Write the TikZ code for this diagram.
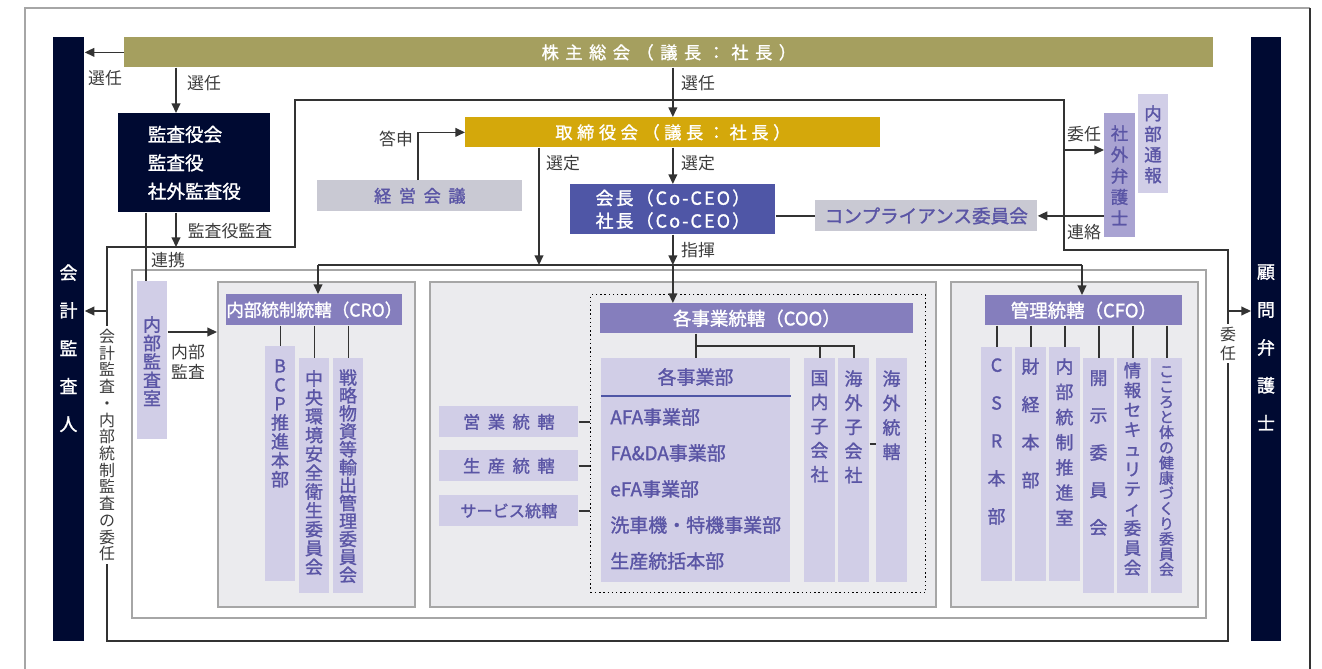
\documentclass[tikz,border=0pt]{standalone}
\usepackage{fontspec}
\setmainfont{Noto Sans CJK JP}
\newfontfamily\semib{Noto Sans CJK JP}[FakeBold=1.3]
\usetikzlibrary{arrows.meta}
\definecolor{cOlive}{HTML}{A59F5F}
\definecolor{cNavy}{HTML}{000A32}
\definecolor{cGold}{HTML}{D4A80B}
\definecolor{cCeo}{HTML}{4F56A6}
\definecolor{cBar}{HTML}{857EBD}
\definecolor{cLav}{HTML}{D1CEE7}
\definecolor{cLavM}{HTML}{A9A3D2}
\definecolor{cGray}{HTML}{C9C9D3}
\definecolor{cInner}{HTML}{EBEBEE}
\definecolor{cInnerB}{HTML}{A6A6A6}
\definecolor{cTxt}{HTML}{5A55A5}
\definecolor{cLbl}{HTML}{3C3C3C}
\definecolor{cLine}{HTML}{333333}
\newcommand\mySpread[2]{\def\mySpK{\kern#1}\mySpA#2\relax}
\def\mySpA#1{\ifx\relax#1\else#1\expandafter\mySpB\fi}
\def\mySpB#1{\ifx\relax#1\else\mySpK#1\expandafter\mySpB\fi}
\newcommand\myVt[2]{\vbox{\baselineskip=\dimexpr #1pt*567/1000\relax \lineskiplimit=-\maxdimen \lineskip=0pt \myVtA#2\relax}}
\def\myVtA#1{\ifx\relax#1\else\hbox to 1em{\hss#1\hss}\expandafter\myVtA\fi}
\newcommand\mybx[7]{\node[#6, anchor=north west, inner sep=0pt, minimum width={(#4-#2)*0.02cm}, minimum height={(#5-#3)*0.02cm}] (#1) at (#2,#3) {#7};}
\begin{document}
\begin{tikzpicture}[x=0.02cm,y=-0.02cm,
  ln/.style={draw=cLine, line width=0.8pt},
  arr/.style={ln, -{Triangle[length=5.5pt,width=5pt]}},
  lbl/.style={font=\fontsize{9.6}{11}\selectfont, text=cLbl, inner sep=0pt},
  barbox/.style={fill=cBar, text=white, font=\fontsize{10.5}{11}\selectfont\semib},
  lavbox/.style={fill=cLav, text=cTxt},
  graybox/.style={fill=cGray, text=cTxt},
  innerbox/.style={fill=cInner, draw=cInnerB, line width=1pt},
  navybox/.style={fill=cNavy, text=white},
  vtx/.style={inner sep=0pt, anchor=north, font=\fontsize{10.2}{11}\selectfont\semib, text=cTxt},
  vtw/.style={vtx, text=white},
  jt/.style={inner sep=0pt, anchor=west, font=\fontsize{10.8}{12}\selectfont\semib, text=cTxt},
]
\useasboundingbox (0,0) rectangle (1322,669);
% outer frame
\draw[draw=gray!70, line width=0.8pt] (25,669) -- (25,8) -- (1310,8);
\draw[draw=cLine, line width=0.8pt] (1310,8) -- (1310,669);
% helper coordinates
\coordinate (x176) at (176,0);
\coordinate (x146) at (146,0);
\coordinate (x418) at (418,0);
\coordinate (x539) at (539,0);
\coordinate (y150) at (0,150);
\coordinate (y311) at (0,311);
\coordinate (y332) at (0,332);
\coordinate (y346) at (0,346);
\coordinate (y396) at (0,396);
\coordinate (y444) at (0,444);
\coordinate (dL) at (318,265);
\coordinate (dR) at (1082,265);
\coordinate (L1) at (107,247);
\coordinate (L2) at (295,247);
\coordinate (L3) at (295,100);
\coordinate (L4) at (1064,100);
\coordinate (L5) at (1064,250);
\coordinate (L6) at (1228,250);
\coordinate (L7) at (1228,641);
\coordinate (L8) at (107,641);
% governance loop
\draw[ln] (L1) -- (L2) -- (L3) -- (L4) -- (L5) -- (L6) -- (L7) -- (L8) -- cycle;
% top level
\mybx{kabu}{124}{37}{1213}{67}{fill=cOlive, text=white, font=\fontsize{9.8}{10}\selectfont\semib}{\mySpread{3.7pt}{株主総会（議長：社長）}}
\mybx{kaikei}{53}{37}{84}{641}{navybox}{}
\node[vtw] at (68.5,264) {\myVt{38}{会計監査人}};
\mybx{komon}{1251}{37}{1281}{641}{navybox}{}
\node[vtw] at (1266,264) {\myVt{38}{顧問弁護士}};
\mybx{kansa}{118}{113}{270}{212}{navybox, align=left, font=\fontsize{10.6}{16.2}\selectfont\semib}{監査役会\\監査役\\社外監査役}
\mybx{tori}{465}{117}{880}{147}{fill=cGold, text=white, font=\fontsize{9.8}{10}\selectfont\semib}{\mySpread{2.6pt}{取締役会（議長：社長）}}
\mybx{keiei}{317}{180}{522}{211}{graybox, font=\fontsize{9.8}{11}\selectfont\semib}{\mySpread{4.3pt}{経営会議}}
\mybx{ceo}{570}{184}{775}{234}{fill=cCeo, text=white, align=center, font=\fontsize{10.2}{13}\selectfont\semib}{\mySpread{1.2pt}{会長（Co-CEO）}\\\mySpread{1.2pt}{社長（Co-CEO）}}
\mybx{comp}{815}{200}{1037}{231}{graybox, font=\fontsize{10.6}{12}\selectfont\semib}{コンプライアンス委員会}
\mybx{bengo}{1104}{113}{1135}{237}{fill=cLavM}{}
\node[vtx, font=\fontsize{9.9}{11}\selectfont\semib] at (1119.5,125) {\myVt{21.3}{社外弁護士}};
\mybx{tsuho}{1138}{94}{1168}{193}{lavbox}{}
\node[vtx, font=\fontsize{9.9}{11}\selectfont\semib] at (1153,105) {\myVt{20.7}{内部通報}};
% container
\mybx{cont}{131}{269}{1205}{617}{fill=white, draw=cInnerB, line width=1pt}{}
\mybx{naibu}{137}{281}{167}{439}{lavbox}{}
\node[vtx] at (152,316) {\myVt{18.5}{内部監査室}};
% CRO
\mybx{crobox}{217}{281}{414}{606}{innerbox}{}
\mybx{cro}{226}{294}{401}{325}{barbox, font=\fontsize{10}{11}\selectfont\semib}{内部統制統轄（CRO）}
\mybx{bcp}{265}{346}{295}{581}{lavbox}{}
\node[vtx] at (280,359) {\myVt{19}{BCP推進本部}};
\mybx{chuo}{299}{358}{329}{593}{lavbox}{}
\node[vtx] at (314,370) {\myVt{18.9}{中央環境安全衛生委員会}};
\mybx{senr}{333}{358}{363}{593}{lavbox}{}
\node[vtx] at (348,369) {\myVt{18}{戦略物資等輸出管理委員会}};
% COO
\mybx{coobox}{429}{281}{935}{606}{innerbox}{}
\mybx{dotbox}{590}{294}{925}{592}{draw=black, line width=0.8pt, dash pattern=on 0.8pt off 1.6pt}{}
\mybx{coo}{600}{303}{913}{333}{barbox}{各事業統轄（COO）}
\mybx{jigyo}{601}{358}{790}{582}{lavbox}{}
\node[jt, anchor=center] at (695.5,377) {各事業部};
\draw[draw=cCeo, line width=1pt] (jigyo.west |- y396) -- (jigyo.east |- y396);
\node[jt] at (610,417) {AFA事業部};
\node[jt] at (610,453) {FA\&DA事業部};
\node[jt] at (610,489) {eFA事業部};
\node[jt] at (610,525) {洗車機・特機事業部};
\node[jt] at (610,561) {生産統括本部};
\mybx{kokunai}{804}{358}{835}{582}{lavbox}{}
\node[vtx] at (819.5,370) {\myVt{24.2}{国内子会社}};
\mybx{kaigaiko}{838}{358}{869}{582}{lavbox}{}
\node[vtx] at (853.5,370) {\myVt{24.2}{海外子会社}};
\mybx{kaigaitou}{876}{358}{907}{582}{lavbox}{}
\node[vtx] at (891.5,370) {\myVt{24.5}{海外統轄}};
\mybx{eigyo}{439}{406}{578}{437}{lavbox, font=\fontsize{9.8}{11}\selectfont\semib}{\mySpread{4.3pt}{営業統轄}}
\mybx{seisan}{439}{450}{578}{481}{lavbox, font=\fontsize{9.8}{11}\selectfont\semib}{\mySpread{4.3pt}{生産統轄}}
\mybx{service}{439}{495}{578}{526}{lavbox, font=\fontsize{9.2}{10}\selectfont\semib}{サービス統轄}
% CFO
\mybx{cfobox}{950}{281}{1197}{606}{innerbox}{}
\mybx{cfo}{985}{295}{1182}{325}{barbox}{管理統轄（CFO）}
\mybx{csr}{981}{347}{1012}{581}{lavbox}{}
\node[vtx] at (996.5,358) {\myVt{38}{CSR本部}};
\mybx{zaikei}{1015}{347}{1046}{581}{lavbox}{}
\node[vtx] at (1030.5,358) {\myVt{38}{財経本部}};
\mybx{nts}{1049}{347}{1080}{581}{lavbox}{}
\node[vtx] at (1064.5,358) {\myVt{25.3}{内部統制推進室}};
\mybx{kaiji}{1083}{358}{1114}{593}{lavbox}{}
\node[vtx] at (1098.5,370) {\myVt{37.5}{開示委員会}};
\mybx{joho}{1117}{358}{1148}{593}{lavbox}{}
\node[vtx, font=\fontsize{9.9}{11}\selectfont\semib] at (1132.5,362) {\myVt{19.8}{情報セキュリティ委員会}};
\mybx{kokoro}{1151}{358}{1182}{593}{lavbox}{}
\node[vtx, font=\fontsize{8.5}{10}\selectfont\semib] at (1166.5,366) {\myVt{15.3}{こころと体の健康づくり委員会}};
% connectors
\draw[arr] (kabu.west) -- (kabu.west -| kaikei.east);
\draw[arr] (kabu.south -| x176) -- (kansa.north -| x176);
\draw[arr] (kabu.south -| tori.north) -- (tori.north);
\draw[arr] (kansa.south -| x176) -- (x176 |- L1);
\draw[ln] (kansa.south -| x146) -- (naibu.north -| x146);
\draw[arr] (keiei.north -| x418) |- (tori.west);
\draw[arr] (tori.south -| x539) -- (x539 |- dL);
\draw[arr] (tori.south) -- (ceo.north);
\draw[ln] (ceo.east |- comp.west) -- (comp.west);
\draw[arr] (L4 |- y150) -- (bengo.west |- y150);
\draw[arr] (bengo.west |- comp.east) -- (comp.east);
\draw[arr] (L1 |- y311) -- (kaikei.east |- y311);
\draw[arr] (L6 |- y311) -- (komon.west |- y311);
\draw[ln] (dL) -- (dR);
\draw[arr] (dL) -- (dL |- cro.north);
\draw[arr] (dR) -- (dR |- cfo.north);
\draw[arr] (ceo.south) -- (ceo.south |- dL);
\draw[arr] (ceo.south |- dL) -- (ceo.south |- coo.north);
\draw[arr] (naibu.east |- y332) -- (crobox.west |- y332);
\draw[ln] (cro.south -| bcp.north) -- (bcp.north);
\draw[ln] (cro.south -| chuo.north) -- (chuo.north);
\draw[ln] (cro.south -| senr.north) -- (senr.north);
\draw[ln] (coo.south -| jigyo.north) -- (jigyo.north);
\draw[ln] (jigyo.north |- y346) -| (kaigaiko.north);
\draw[ln] (kokunai.north |- y346) -- (kokunai.north);
\draw[ln] (kaigaiko.east |- y444) -- (kaigaitou.west |- y444);
\draw[ln] (eigyo.east) -- (eigyo.east -| dotbox.west);
\draw[ln] (seisan.east) -- (seisan.east -| dotbox.west);
\draw[ln] (service.east) -- (service.east -| dotbox.west);
\draw[ln] (cfo.south -| csr.north) -- (csr.north);
\draw[ln] (cfo.south -| zaikei.north) -- (zaikei.north);
\draw[ln] (cfo.south -| nts.north) -- (nts.north);
\draw[ln] (cfo.south -| kaiji.north) -- (kaiji.north);
\draw[ln] (cfo.south -| joho.north) -- (joho.north);
\draw[ln] (cfo.south -| kokoro.north) -- (kokoro.north);
% labels
\node[lbl] at (105,78) {選任};
\node[lbl] at (204,83) {選任};
\node[lbl] at (698,83) {選任};
\node[lbl] at (396,139) {答申};
\node[lbl] at (563,163) {選定};
\node[lbl] at (698,163) {選定};
\node[lbl] at (698,250) {指揮};
\node[lbl] at (230,231) {監査役監査};
\node[lbl] at (168,260) {連携};
\node[lbl] at (1084,134) {委任};
\node[lbl] at (1084,232) {連絡};
\node[lbl, align=center, font=\fontsize{9.6}{11.3}\selectfont] at (188,362) {内部\\監査};
\node[vtx, text=cLbl, fill=white, inner sep=1.5pt, font=\fontsize{9.07}{10}\selectfont] at (107,326) {\myVt{16.8}{会計監査・内部統制監査の委任}};
\node[vtx, text=cLbl, fill=white, inner sep=1.5pt, font=\fontsize{9.07}{10}\selectfont] at (1228,324) {\myVt{19}{委任}};
\end{tikzpicture}
\end{document}
